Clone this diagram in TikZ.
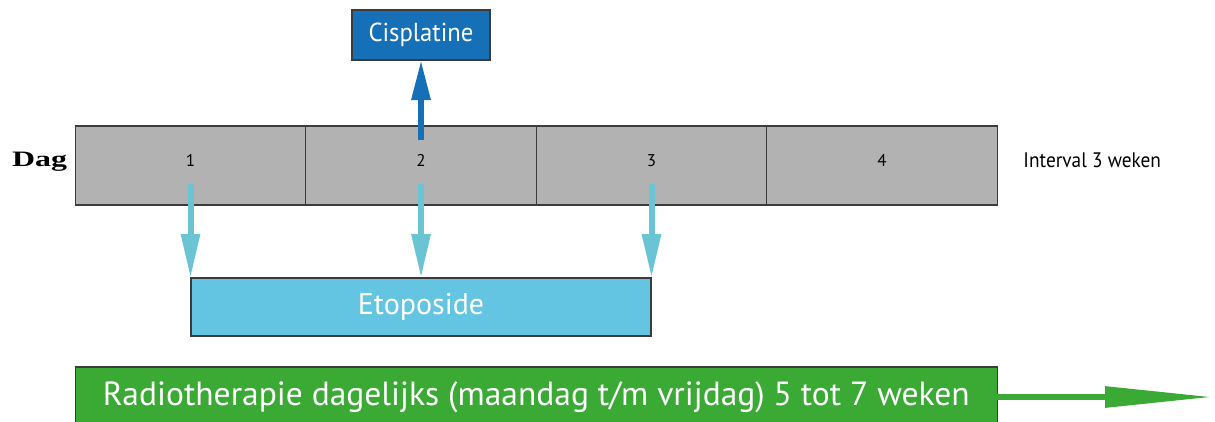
\documentclass[tikz,border=0pt]{standalone}
\usepackage{fontspec}
\setmainfont{PT Sans}
\newfontfamily\dagfont{Liberation Serif}
\usetikzlibrary{positioning, arrows.meta, calc}

\definecolor{dagGrijs}{HTML}{B2B2B2}
\definecolor{randGrijs}{HTML}{3C3C3C}
\definecolor{cisBlauw}{HTML}{1570B8}
\definecolor{etoBlauw}{HTML}{63C5E1}
\definecolor{etoPijl}{HTML}{6BC4D3}
\definecolor{radioGroen}{HTML}{3AAA35}

\begin{document}
\begin{tikzpicture}[x=1pt, y=-1pt,
	daycell/.style={draw=randGrijs, fill=dagGrijs, line width=1.2pt, minimum width=230.5pt, minimum height=79pt, inner sep=0pt, outer sep=0pt},
	daynum/.style={font=\fontsize{17}{20}\selectfont, inner sep=0pt},
	box/.style={draw=randGrijs, line width=1.2pt, text=white, inner sep=0pt, outer sep=0pt},
	pijl/.style={line width=6pt, -{Triangle[width=18pt, length=44pt]}},
	node distance=0pt]

	\clip (0,0) rectangle (1215,421);

	% Dagen
	\node (day1) [daycell] at (190.5,165.5) {};
	\node (day2) [daycell, right=of day1] {};
	\node (day3) [daycell, right=of day2] {};
	\node (day4) [daycell, right=of day3] {};
	\foreach \d in {1,...,4}
		\node (num\d) [daynum] at ([yshift=5pt]day\d.center) {\d};

	\node (dag) [left=8pt of day1, yshift=4pt, inner sep=0pt] {\dagfont\bfseries\fontsize{22}{26}\selectfont\scalebox{1.45}[1]{Dag}};
	\node (interval) [right=26pt of day4, yshift=5pt, anchor=west, inner sep=0pt] {\fontsize{21}{25}\selectfont\scalebox{0.92}[1]{Interval 3 weken}};

	% Blokken
	\node (cis) [box, fill=cisBlauw, minimum width=138pt, minimum height=50pt, above=66pt of day2] {\fontsize{26}{30}\selectfont\scalebox{0.95}[1]{Cisplatine}};
	\node (eto) [box, fill=etoBlauw, minimum width=460pt, minimum height=58pt, below=73pt of day2] {\fontsize{30}{36}\selectfont Etoposide};
	\node (radio) [box, fill=radioGroen, minimum width=922pt, minimum height=60pt, anchor=north west] at ([yshift=-162pt]day1.south west) {\fontsize{33.5}{40}\selectfont Radiotherapie dagelijks (maandag t/m vrijdag) 5 tot 7 weken};

	% Pijlen
	\coordinate (cisStart) at ([yshift=-14pt]day2.north);
	\draw[pijl, cisBlauw, -{Triangle[width=18pt, length=40pt]}] (cisStart) -- (cis.south);

	\coordinate (eto1) at ([yshift=21pt]day1.south);
	\coordinate (eto2) at ([yshift=21pt]day2.south);
	\coordinate (eto3) at ([yshift=21pt]day3.south);
	\draw[pijl, etoPijl] (eto1) -- (eto1 |- eto.north);
	\draw[pijl, etoPijl] (eto2) -- (eto.north);
	\draw[pijl, etoPijl] (eto3) -- (eto3 |- eto.north);

	\coordinate (radioEnd) at (1213,397);
	\draw[radioGroen, line width=6pt, -{Triangle[width=20pt, length=108pt]}] (radio.east) -- (radioEnd);
\end{tikzpicture}
\end{document}
